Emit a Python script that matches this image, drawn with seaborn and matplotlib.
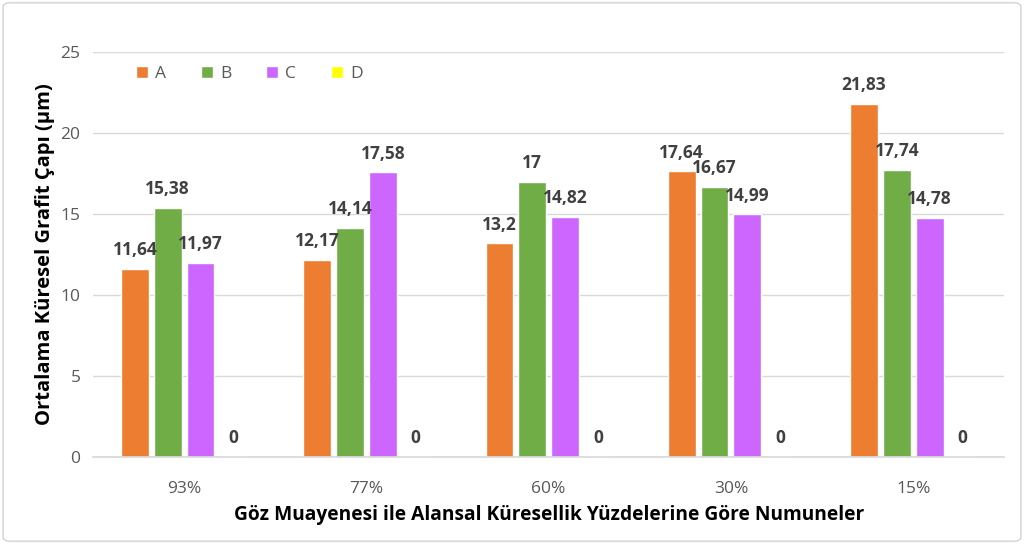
import matplotlib
matplotlib.use("Agg")
import matplotlib.pyplot as plt
import seaborn as sns
import pandas as pd
from matplotlib.patches import FancyBboxPatch

categories = ["93%", "77%", "60%", "30%", "15%"]
series = ["A", "B", "C", "D"]
vals_A = [11.64, 12.17, 13.2, 17.64, 21.83]
vals_B = [15.38, 14.14, 17.0, 16.67, 17.74]
vals_C = [11.97, 17.58, 14.82, 14.99, 14.78]
vals_D = [0, 0, 0, 0, 0]
colors = ["#ED7D31", "#70AD47", "#CC66FF", "#FFFF00"]

rows = []
for s, vals in zip(series, [vals_A, vals_B, vals_C, vals_D]):
    for c, v in zip(categories, vals):
        rows.append({"cat": c, "series": s, "val": v})
df = pd.DataFrame(rows)

sns.set_theme(style="white")
plt.rcParams["font.family"] = ["Open Sans", "DejaVu Sans"]

fig = plt.figure(figsize=(10.24, 5.44), dpi=100)
ax = fig.add_axes([0.0908, 0.16, 0.890, 0.744])

sns.barplot(data=df, x="cat", y="val", hue="series", palette=colors,
            width=0.72, gap=0.15, ax=ax, order=categories, hue_order=series,
            saturation=1, legend=True, errorbar=None)

def fmt(v):
    s = f"{v:.2f}".rstrip("0").rstrip(".")
    return s.replace(".", ",")

for cont in ax.containers:
    labels = [fmt(b.get_height()) for b in cont]
    ax.bar_label(cont, labels=labels, padding=7, fontsize=12.5,
                 fontweight="bold", color="#404040")

ax.set_ylim(0, 25)
ax.set_yticks([0, 5, 10, 15, 20, 25])
ax.yaxis.grid(True, color="#D9D9D9", linewidth=1)
ax.set_axisbelow(True)
for sp in ["top", "right", "left"]:
    ax.spines[sp].set_visible(False)
ax.spines["bottom"].set_color("#D9D9D9")
ax.tick_params(axis="both", length=0, labelsize=12.5, labelcolor="#595959")
ax.tick_params(axis="x", pad=17)
ax.tick_params(axis="y", pad=9)
ax.set_xlabel("Göz Muayenesi ile Alansal Küresellik Yüzdelerine Göre Numuneler",
              fontsize=13.8, fontweight="bold", color="black", labelpad=6)
ax.set_ylabel("Ortalama Küresel Grafit Çapı (µm)", fontsize=14.5,
              fontweight="bold", color="black", labelpad=4)

leg = ax.legend(loc="upper left", bbox_to_anchor=(0.03, 1.005), ncol=4,
                frameon=False, fontsize=12.5, handlelength=0.7, handleheight=0.7,
                columnspacing=2.0, handletextpad=0.4)
for t in leg.get_texts():
    t.set_color("#595959")

border = FancyBboxPatch((0.003, 0.005), 0.994, 0.99, boxstyle="round,pad=0,rounding_size=0.008",
                        transform=fig.transFigure, fill=False, edgecolor="#D9D9D9", linewidth=1.2)
fig.patches.append(border)

fig.savefig("out.png", dpi=100)
